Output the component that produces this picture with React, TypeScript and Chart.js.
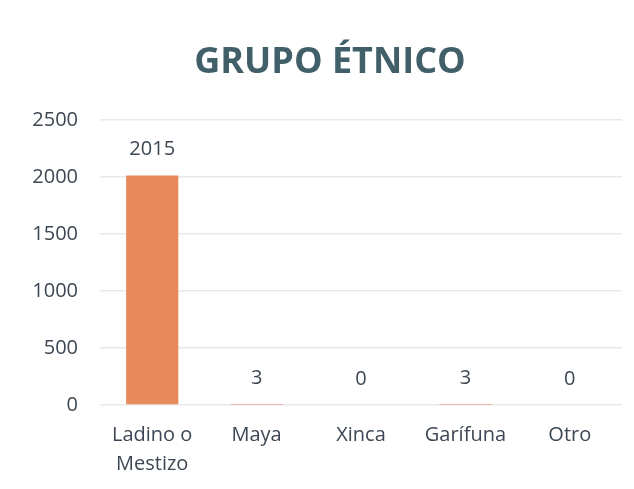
import React, { useEffect, useRef } from "react";
import { Chart, registerables } from "chart.js";

Chart.register(...registerables);

const categories: (string | string[])[] = [["Ladino o", "Mestizo"], "Maya", "Xinca", "Garífuna", "Otro"];
const values: number[] = [2015, 3, 0, 3, 0];
const yTicks: number[] = [0, 500, 1000, 1500, 2000, 2500];
const titleText = "GRUPO ÉTNICO";

const FONT = "'Open Sans', 'DejaVu Sans', sans-serif";
const TEXT_COLOR = "#3c4753";
const TITLE_COLOR = "#405f68";

const valueLabels = {
  id: "valueLabels",
  afterDatasetsDraw(chart: any) {
    const ctx = chart.ctx;
    const meta = chart.getDatasetMeta(0);
    ctx.save();
    ctx.font = `20px ${FONT}`;
    ctx.fillStyle = TEXT_COLOR;
    ctx.textAlign = "center";
    ctx.textBaseline = "bottom";
    meta.data.forEach((bar: any, i: number) => {
      ctx.fillText(String(values[i]), bar.x, bar.y - 16);
    });
    ctx.restore();
  },
};

// draws the title centred over the whole figure (Chart.js's title only reserves the space)
const centeredTitle = {
  id: "centeredTitle",
  afterDraw(chart: any) {
    const ctx = chart.ctx;
    const t = chart.titleBlock;
    if (!t) return;
    ctx.save();
    ctx.font = `bold 36px ${FONT}`;
    ctx.fillStyle = TITLE_COLOR;
    ctx.textAlign = "center";
    ctx.textBaseline = "middle";
    const cy = t.top + 41 + (36 * 1.2) / 2;
    ctx.fillText(titleText, (chart.chartArea.left + chart.chartArea.right) / 2 - 31, cy);
    ctx.restore();
  },
};

export default function App() {
  const ref = useRef<HTMLCanvasElement | null>(null);
  useEffect(() => {
    document.body.style.margin = "0";
    if (!ref.current) return;
    const chart = new Chart(ref.current, {
      type: "bar",
      data: {
        labels: categories,
        datasets: [
          {
            data: values,
            backgroundColor: "#E8895B",
            borderWidth: 0,
            barPercentage: 0.5,
            categoryPercentage: 1,
          },
        ],
      },
      options: {
        animation: false,
        responsive: false,
        devicePixelRatio: 1,
        layout: { padding: { left: 0, right: 12, top: 0, bottom: 0 } },
        plugins: {
          legend: { display: false },
          tooltip: { enabled: false },
          title: {
            display: true,
            text: titleText,
            color: "rgba(0,0,0,0)",
            font: { family: FONT, size: 36, weight: "bold" },
            padding: { top: 41, bottom: 36 },
          },
        },
        scales: {
          x: {
            afterFit: (scale: any) => {
              scale.height = 84;
            },
            grid: { display: false, drawTicks: false },
            border: { display: false },
            ticks: {
              color: TEXT_COLOR,
              font: { family: FONT, size: 20, lineHeight: 1.45 },
              padding: 16,
              maxRotation: 0,
              autoSkip: false,
            },
          },
          y: {
            min: 0,
            max: 2500,
            afterFit: (scale: any) => {
              scale.width = 100;
            },
            afterBuildTicks: (scale: any) => {
              scale.ticks = yTicks.map((v) => ({ value: v }));
            },
            grid: { color: "#e9e9e9", lineWidth: 1.5, drawTicks: false },
            border: { display: false },
            ticks: {
              color: TEXT_COLOR,
              font: { family: FONT, size: 20 },
              padding: 22,
              callback: (v: any) => String(v),
            },
          },
        },
      },
      plugins: [valueLabels, centeredTitle],
    });
    return () => chart.destroy();
  }, []);
  return (
    <div style={{ position: "absolute", left: 0, top: 0, width: 634, height: 489, background: "#fff" }}>
      <canvas ref={ref} width={634} height={489} />
    </div>
  );
}
